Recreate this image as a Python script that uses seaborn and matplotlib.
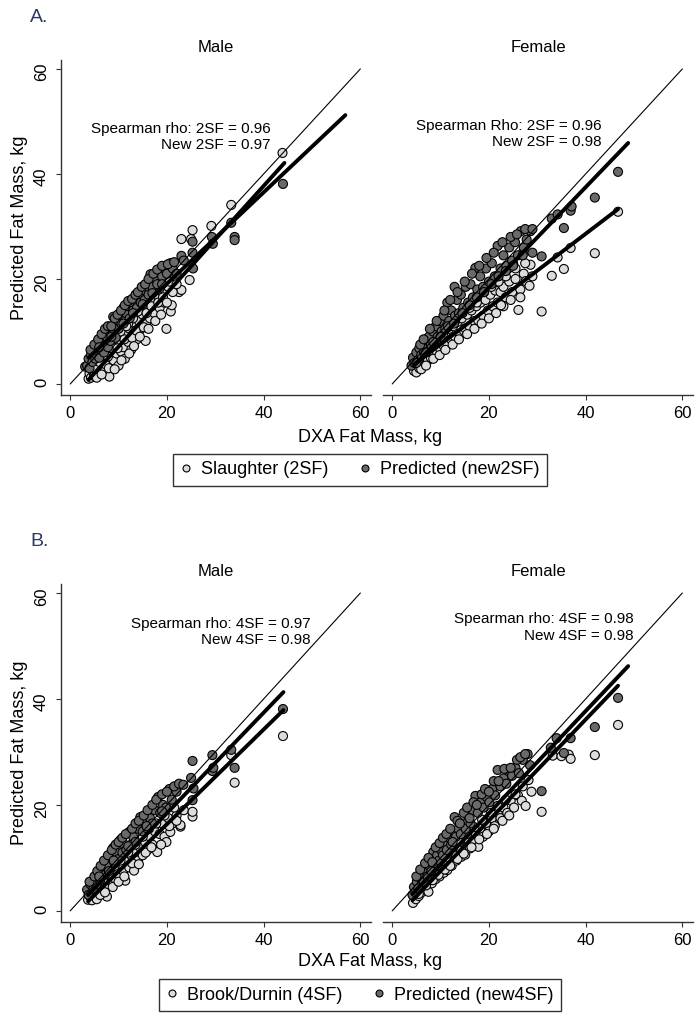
import numpy as np
import pandas as pd
import matplotlib
matplotlib.use("Agg")
import matplotlib.pyplot as plt
from matplotlib.lines import Line2D
import seaborn as sns

sns.set_style("ticks")
plt.rcParams['font.family'] = ['Liberation Sans', 'DejaVu Sans']
plt.rcParams.update({'text.color': 'black', 'axes.labelcolor': 'black',
                     'xtick.color': 'black', 'ytick.color': 'black'})

# ---- data (DXA fat mass, predicted fat mass) ----
# Panel A, males: Slaughter 2SF and new 2SF
male_2sf = np.array([
    [3.8, 1.0], [4.0, 2.0], [4.3, 1.2], [4.5, 3.0], [4.8, 2.2], [5.0, 1.5], [5.2, 3.5], [5.5, 2.5],
    [5.8, 4.0], [6.0, 2.0], [6.2, 3.2], [6.5, 4.8], [6.8, 3.0], [7.0, 5.5], [7.2, 2.5], [7.5, 4.2],
    [7.8, 6.0], [8.1, 1.4], [8.2, 5.0], [8.5, 3.5], [8.8, 6.8], [9.0, 4.5], [9.3, 7.5], [9.6, 5.8],
    [10.0, 3.5], [10.2, 8.0], [10.5, 6.2], [10.8, 9.0], [11.0, 7.0], [11.3, 4.8], [11.6, 9.5],
    [12.0, 8.0], [12.3, 10.5], [12.6, 6.5], [13.0, 9.5], [13.4, 11.5], [13.8, 8.5], [14.2, 12.0],
    [14.6, 10.5], [15.0, 13.2], [15.6, 8.2], [15.7, 11.5], [16.0, 14.0], [16.5, 12.5], [17.0, 15.5],
    [17.4, 13.5], [18.0, 16.5], [18.5, 14.5], [19.0, 17.5], [19.5, 15.5], [19.9, 10.5], [20.3, 18.5],
    [20.8, 13.8], [21.0, 15.0], [21.5, 19.0], [22.5, 17.5], [23.0, 17.9], [24.7, 19.8],
    [6.5, 6.0], [9.0, 8.5], [12.0, 11.5], [14.0, 13.8], [16.5, 16.0], [18.5, 18.2], [20.5, 19.5],
    [22.0, 20.5], [5.5, 1.2], [6.5, 1.8], [7.2, 3.8], [8.0, 3.0], [9.2, 2.8], [9.8, 6.8], [10.6, 4.5],
    [11.2, 8.5], [12.2, 5.8], [12.8, 8.8], [13.2, 7.2], [13.6, 10.2], [14.4, 9.0], [15.2, 10.8],
    [15.8, 13.5], [16.2, 10.5], [16.8, 14.8], [17.6, 12.0], [18.2, 15.5], [18.8, 13.2], [19.2, 16.5],
    [20.0, 15.5], [21.2, 17.5], [22.0, 19.0], [5.0, 3.0], [6.0, 4.2], [7.8, 5.2], [10.4, 10.0],
    [11.6, 11.0], [13.0, 12.5],
    [23.0, 27.6], [25.0, 27.6], [25.3, 29.3], [29.2, 30.1], [33.3, 34.1], [43.9, 44.0],
])
male_new2sf = np.array([
    [3.1, 3.3], [3.5, 3.5], [3.8, 4.8], [4.0, 3.0], [4.3, 5.5], [4.6, 4.2], [5.0, 6.0], [5.2, 4.8],
    [5.5, 5.5], [5.8, 7.0], [6.0, 5.0], [6.3, 6.5], [6.6, 8.0], [7.0, 6.0], [7.2, 7.8], [7.5, 9.0],
    [7.8, 7.0], [8.0, 10.0], [8.3, 8.2], [8.9, 12.8], [8.8, 9.5], [9.0, 11.0], [9.4, 8.8], [9.7, 12.0],
    [10.0, 10.5], [10.3, 13.0], [10.6, 11.5], [11.0, 14.5], [11.3, 12.0], [11.6, 13.5], [12.0, 14.8],
    [12.3, 12.5], [12.6, 15.5], [13.0, 14.0], [13.4, 16.0], [13.8, 14.5], [14.2, 17.0], [14.6, 15.5],
    [15.1, 17.9], [15.4, 16.0], [15.8, 18.5], [16.2, 17.0], [16.6, 20.9], [17.0, 18.5], [17.5, 20.0],
    [18.0, 19.0], [18.5, 21.5], [19.0, 20.5], [19.5, 22.0], [20.0, 21.0], [20.7, 23.0], [21.2, 22.0],
    [22.0, 21.0], [4.2, 6.5], [5.0, 7.5], [5.8, 8.5], [6.5, 9.5], [7.2, 10.5], [7.8, 11.0],
    [8.5, 11.0], [9.2, 12.5], [9.8, 13.2], [10.5, 14.0], [11.3, 15.0], [12.0, 15.8], [12.8, 16.2],
    [13.5, 17.0], [14.0, 17.5], [14.8, 18.5], [15.5, 19.0], [16.2, 20.0], [17.2, 21.0], [18.0, 21.8],
    [19.0, 22.5], [20.2, 22.8], [21.5, 23.2], [6.0, 7.0], [8.5, 9.0], [11.0, 11.5], [13.0, 13.5],
    [15.0, 15.2], [17.0, 17.3], [19.0, 19.0],
    [23.0, 24.4], [23.5, 23.5], [25.3, 25.0], [25.3, 27.1], [25.4, 22.0], [29.3, 28.0],
    [29.5, 26.7], [33.3, 30.7], [34.0, 28.0], [34.0, 27.4], [44.0, 38.1],
])
# Panel A, females
female_2sf = np.array([
    [4.5, 2.5], [4.8, 3.8], [5.0, 2.2], [5.3, 4.5], [5.6, 3.0], [5.9, 5.0], [6.2, 3.5], [6.5, 5.5],
    [6.8, 4.0], [7.1, 6.0], [7.4, 4.5], [7.7, 6.5], [8.0, 5.0], [8.3, 7.2], [8.6, 5.5], [9.0, 7.8],
    [9.3, 6.0], [9.6, 8.5], [10.0, 6.5], [10.3, 9.0], [10.7, 7.2], [11.0, 9.8], [11.4, 7.7],
    [11.8, 10.5], [12.2, 8.5], [12.6, 11.0], [13.0, 9.0], [13.5, 11.8], [14.0, 9.5], [14.4, 12.5],
    [14.8, 10.2], [15.1, 10.6], [15.5, 13.2], [16.0, 11.0], [16.4, 14.0], [17.0, 12.0], [17.4, 14.8],
    [17.8, 12.1], [18.3, 15.5], [18.8, 13.0], [19.3, 16.0], [19.8, 14.0], [20.3, 17.0], [20.8, 14.8],
    [21.3, 17.8], [21.8, 15.5], [22.4, 17.5], [23.0, 18.5], [23.5, 16.5], [24.2, 19.5], [24.8, 17.5],
    [25.0, 23.0], [25.5, 20.0], [26.1, 14.1], [26.5, 18.0], [27.0, 25.0], [27.2, 21.0], [27.6, 19.6],
    [28.4, 18.7], [28.6, 22.7], [29.0, 20.5],
    [5.5, 4.8], [6.0, 2.8], [7.0, 3.5], [7.5, 6.8], [8.5, 4.8], [9.0, 8.0], [9.8, 5.5], [10.5, 9.5],
    [11.0, 6.5], [11.5, 10.8], [12.5, 7.5], [13.0, 12.0], [13.8, 8.5], [14.5, 13.5], [15.5, 9.5],
    [16.0, 14.5], [17.0, 10.5], [17.5, 15.5], [18.5, 11.5], [19.0, 17.5], [20.0, 12.5], [20.5, 18.5],
    [21.5, 13.5], [22.0, 19.5], [23.0, 14.8], [23.5, 20.5], [24.5, 16.0], [25.5, 22.0], [26.5, 16.5],
    [27.5, 23.0], [22.5, 15.0], [24.0, 22.0],
    [30.9, 13.8], [33.0, 20.6], [34.2, 24.1], [35.5, 21.9], [36.9, 25.9], [41.9, 24.9], [46.7, 32.8],
])
female_new2sf = np.array([
    [4.0, 3.5], [4.3, 5.0], [4.6, 4.0], [5.0, 6.0], [5.3, 4.5], [5.6, 6.8], [6.0, 5.5], [6.3, 7.5],
    [6.6, 6.0], [7.0, 8.5], [7.3, 6.8], [7.6, 9.0], [8.0, 7.5], [8.4, 10.0], [8.7, 8.0], [9.0, 11.0],
    [9.4, 9.0], [9.8, 12.0], [10.2, 10.0], [10.6, 13.0], [11.0, 10.5], [11.4, 15.5], [11.8, 12.0],
    [12.2, 14.0], [12.9, 18.5], [13.0, 13.0], [13.4, 16.0], [13.8, 13.5], [14.2, 17.0], [14.7, 14.5],
    [15.2, 18.5], [15.7, 15.5], [16.2, 19.0], [16.7, 16.5], [17.2, 22.1], [17.6, 18.0], [18.2, 20.5],
    [18.8, 18.5], [19.4, 22.0], [20.0, 19.5], [20.6, 23.0], [21.2, 20.5], [21.8, 26.3], [22.4, 22.0],
    [23.0, 24.5], [23.6, 22.5], [24.2, 26.0], [24.8, 23.5], [25.4, 27.0], [26.0, 24.5], [26.6, 29.1],
    [27.2, 26.0], [27.8, 27.5], [28.6, 29.1], [29.0, 25.0],
    [5.0, 4.0], [5.8, 7.5], [6.5, 8.5], [7.0, 6.0], [7.8, 10.5], [8.5, 8.0], [9.2, 12.0], [10.0, 9.0],
    [10.8, 14.0], [11.5, 11.0], [12.0, 16.0], [12.8, 11.5], [13.5, 17.5], [14.5, 13.5], [15.0, 19.5],
    [16.0, 15.0], [16.5, 21.0], [17.5, 16.5], [18.0, 22.5], [19.0, 17.5], [19.5, 24.0], [20.5, 19.0],
    [21.0, 25.0], [22.0, 20.5], [22.8, 27.0], [23.5, 21.5], [24.5, 28.0], [25.0, 22.5], [25.8, 28.5],
    [27.0, 24.5], [27.5, 29.5], [29.0, 29.5],
    [30.9, 24.3], [33.0, 31.5], [34.2, 32.3], [35.5, 29.7], [36.9, 33.0], [37.1, 33.8], [41.9, 35.5],
    [46.7, 40.4],
])
# Panel B, males: Brook/Durnin 4SF and new 4SF
male_4sf = np.array([
    [3.7, 2.1], [4.0, 3.2], [4.3, 2.5], [4.6, 4.0], [5.0, 3.0], [5.3, 4.5], [5.6, 3.5], [6.0, 5.0],
    [6.3, 4.0], [6.6, 5.5], [7.0, 4.5], [7.6, 2.7], [7.4, 6.0], [7.8, 5.0], [8.2, 6.5], [8.6, 5.5],
    [9.0, 7.2], [9.4, 6.0], [9.8, 8.0], [10.2, 6.8], [10.6, 8.8], [11.0, 7.5], [11.4, 5.7], [11.8, 9.5],
    [12.2, 8.2], [12.6, 10.5], [13.2, 7.6], [13.5, 11.0], [14.0, 9.5], [14.5, 12.0], [15.0, 10.5],
    [15.5, 13.0], [16.0, 11.5], [16.5, 14.0], [17.0, 12.5], [17.5, 15.0], [18.0, 11.1], [18.5, 14.5],
    [19.0, 16.5], [19.5, 14.0], [19.9, 13.0], [20.3, 17.5], [20.7, 14.9], [21.2, 16.5], [22.0, 18.0],
    [22.8, 15.9], [23.5, 19.0], [22.8, 16.2],
    [4.5, 2.0], [5.5, 2.2], [6.2, 3.0], [6.8, 6.0], [7.2, 3.5], [8.0, 7.0], [8.8, 4.5], [9.2, 8.5],
    [10.0, 5.5], [10.4, 9.5], [11.2, 6.5], [12.0, 11.0], [12.8, 9.0], [13.5, 12.5], [14.2, 8.8],
    [15.0, 14.0], [15.6, 11.0], [16.3, 15.5], [16.8, 12.0], [17.8, 16.5], [18.8, 12.5], [19.5, 18.0],
    [20.5, 16.0], [21.5, 19.5], [22.0, 17.0],
    [25.3, 17.8], [25.3, 18.7], [33.3, 29.4], [34.0, 24.2], [44.0, 33.0],
])
male_new4sf = np.array([
    [3.5, 4.0], [3.8, 3.0], [4.2, 5.0], [4.5, 5.5], [4.8, 4.2], [5.2, 6.0], [5.5, 5.0], [5.9, 7.0],
    [6.2, 5.8], [6.6, 7.8], [6.9, 8.3], [7.2, 6.8], [7.6, 8.5], [8.0, 7.5], [8.4, 10.0], [8.9, 11.9],
    [9.2, 9.0], [9.6, 11.0], [10.0, 9.8], [10.4, 13.4], [10.8, 11.0], [11.2, 12.5], [11.6, 11.5],
    [12.2, 14.9], [12.6, 12.5], [13.0, 14.0], [13.5, 13.0], [14.0, 15.5], [14.5, 17.7], [15.0, 15.0],
    [15.5, 16.5], [16.0, 15.5], [16.5, 17.5], [17.0, 16.5], [17.5, 19.0], [18.2, 21.5], [18.6, 18.5],
    [19.2, 20.0], [19.8, 19.5], [20.5, 23.0], [21.0, 21.0], [22.0, 22.5],
    [4.0, 5.5], [5.0, 6.5], [5.6, 7.5], [6.3, 8.5], [7.0, 9.5], [7.8, 10.5], [8.6, 11.5], [9.4, 12.5],
    [10.0, 13.0], [10.8, 13.8], [11.5, 14.5], [12.8, 15.5], [13.5, 16.5], [14.2, 17.0], [15.2, 18.0],
    [16.0, 19.0], [17.0, 20.0], [17.8, 21.0], [19.0, 22.0], [20.0, 22.5], [21.5, 23.5], [22.5, 24.0],
    [6.0, 6.5], [9.0, 9.5], [12.0, 12.2], [15.8, 16.0], [19.0, 18.8],
    [23.4, 23.8], [25.0, 25.1], [25.3, 28.3], [25.5, 23.1], [25.3, 20.9], [29.4, 29.4], [29.4, 26.4],
    [29.6, 27.0], [33.3, 30.4], [34.0, 27.0], [44.0, 38.1],
])
# Panel B, females
female_4sf = np.array([
    [4.3, 1.5], [4.6, 3.0], [4.9, 2.2], [5.2, 3.8], [5.5, 2.8], [5.8, 4.5], [6.1, 3.5], [6.5, 5.0],
    [6.8, 4.0], [7.1, 5.8], [7.5, 3.6], [7.8, 6.2], [8.2, 5.2], [8.6, 7.0], [9.0, 6.0], [9.4, 7.8],
    [9.8, 6.5], [10.2, 8.5], [10.7, 7.2], [11.1, 9.2], [11.4, 7.7], [11.9, 10.0], [12.3, 8.5],
    [12.8, 11.0], [13.3, 9.5], [13.8, 12.0], [14.3, 10.2], [14.8, 12.8], [15.1, 10.6], [15.6, 13.5],
    [16.1, 11.8], [16.6, 14.5], [17.0, 12.8], [17.8, 12.1], [18.2, 15.5], [18.8, 14.0], [19.4, 16.5],
    [20.0, 15.0], [20.6, 17.5], [21.2, 16.0], [21.8, 18.5], [22.4, 17.5], [23.0, 19.5], [23.8, 18.5],
    [24.5, 20.8], [25.2, 19.5], [26.0, 21.8], [26.8, 20.8], [27.6, 19.8], [28.2, 24.7], [28.8, 22.5],
    [5.0, 4.5], [5.5, 3.2], [6.3, 5.8], [7.0, 4.8], [7.5, 7.0], [8.4, 5.8], [8.8, 8.2], [9.6, 6.8],
    [10.0, 9.5], [10.9, 7.8], [11.5, 10.8], [12.0, 8.5], [12.6, 12.0], [13.5, 9.8], [14.0, 13.2],
    [14.8, 10.8], [15.5, 14.5], [16.4, 12.0], [17.0, 15.8], [18.0, 13.5], [18.6, 17.2], [19.6, 14.5],
    [20.4, 18.5], [21.0, 15.5], [21.8, 19.8], [22.8, 17.0], [23.5, 21.0], [24.2, 18.0], [25.5, 22.0],
    [27.0, 23.5],
    [30.9, 18.7], [33.2, 29.3], [35.0, 29.2], [36.5, 29.5], [36.9, 28.7], [41.9, 29.4], [46.7, 35.1],
])
female_new4sf = np.array([
    [4.2, 3.0], [4.5, 4.5], [4.8, 3.5], [5.1, 5.5], [5.4, 4.2], [5.8, 6.2], [6.2, 7.2], [6.5, 5.5],
    [6.9, 7.5], [7.3, 6.5], [7.7, 8.5], [8.1, 7.5], [8.5, 11.1], [8.9, 9.0], [9.3, 10.5], [9.7, 9.5],
    [10.1, 11.5], [10.5, 10.5], [10.9, 12.5], [11.3, 11.5], [11.8, 13.8], [12.2, 12.5], [12.9, 17.7],
    [13.2, 14.0], [13.7, 15.5], [14.2, 14.5], [14.7, 16.5], [15.2, 15.5], [15.7, 18.0], [16.2, 16.5],
    [16.7, 19.0], [17.2, 21.7], [17.7, 18.5], [18.3, 20.5], [18.9, 19.5], [19.5, 21.5], [20.1, 20.5],
    [20.7, 23.0], [21.3, 21.8], [21.8, 26.6], [22.4, 23.5], [23.0, 25.0], [23.6, 24.0], [24.1, 26.6],
    [24.8, 25.5], [25.5, 27.0], [26.2, 26.0], [27.0, 28.5], [28.0, 29.6], [28.5, 27.5],
    [5.0, 6.5], [5.8, 7.8], [6.8, 9.0], [7.5, 10.0], [8.3, 9.2], [9.0, 12.0], [9.8, 12.8], [10.5, 13.8],
    [11.2, 14.5], [12.0, 15.5], [12.5, 13.0], [13.5, 17.0], [14.0, 16.5], [14.8, 18.5], [15.5, 19.5],
    [16.0, 17.5], [16.8, 20.5], [17.5, 20.0], [18.5, 22.0], [19.2, 23.0], [20.0, 22.5], [21.0, 24.5],
    [22.0, 24.5], [23.2, 26.8], [24.5, 27.0], [25.8, 28.5], [26.5, 29.0], [27.5, 29.6],
    [30.9, 22.6], [32.8, 30.8], [34.0, 32.6], [35.5, 29.8], [36.9, 32.6], [41.9, 34.7], [46.7, 40.2],
])

# fitted lines: [[x_start, x_end], [y_start, y_end]]
fit_male_2sf = [[3.8, 44.3], [0.8, 42.1]]
fit_male_new2sf = [[3.8, 56.9], [5.0, 51.2]]
fit_female_2sf = [[4.5, 46.7], [3.7, 33.3]]
fit_female_new2sf = [[4.5, 48.8], [3.5, 45.9]]
fit_male_4sf = [[3.7, 44.1], [1.8, 37.9]]
fit_male_new4sf = [[3.7, 44.1], [3.0, 41.3]]
fit_female_4sf = [[4.2, 46.7], [2.0, 42.5]]
fit_female_new4sf = [[4.2, 48.8], [3.2, 46.2]]
identity = [0, 60]

rho_text_a = ["Spearman rho: 2SF = 0.96\nNew 2SF = 0.97", "Spearman Rho: 2SF = 0.96\nNew 2SF = 0.98"]
rho_text_b = ["Spearman rho: 4SF = 0.97\nNew 4SF = 0.98", "Spearman rho: 4SF = 0.98\nNew 4SF = 0.98"]
legend_a = ["Slaughter (2SF)", "Predicted (new2SF)"]
legend_b = ["Brook/Durnin (4SF)", "Predicted (new4SF)"]
ticks = [0, 20, 40, 60]

LIGHT = "#dcdcdc"
DARK = "#6a6a6a"
W, H = 698, 1023


def box(left, top, right, bottom):
    return [left / W, 1 - bottom / H, (right - left) / W, (bottom - top) / H]


def panel_frame(light, dark, names):
    a = pd.DataFrame(light, columns=["dxa", "pred"])
    a["method"] = names[0]
    b = pd.DataFrame(dark, columns=["dxa", "pred"])
    b["method"] = names[1]
    return pd.concat([a, b], ignore_index=True)


def draw(ax, df, names, fits, text, text_xy, title, show_y):
    sns.scatterplot(data=df, x="dxa", y="pred", hue="method", hue_order=names,
                    palette=[LIGHT, DARK], s=42, edgecolor="black", linewidth=0.8,
                    legend=False, ax=ax, zorder=2)
    for fx, fy in fits:
        sns.lineplot(x=fx, y=fy, color="black", lw=2.8, ax=ax, zorder=3)
    sns.lineplot(x=identity, y=identity, color="black", lw=0.8, ax=ax, zorder=3)
    ax.text(text_xy[0], text_xy[1], text, ha="right", va="center", multialignment="right",
            fontsize=11)
    ax.set_xlim(-1.9, 62.2)
    ax.set_ylim(-2.1, 61.7)
    ax.set_xticks(ticks)
    ax.set_yticks(ticks)
    ax.set_xlabel("")
    ax.set_ylabel("")
    ax.set_title(title, fontsize=12, pad=6)
    for s in ["top", "right"]:
        ax.spines[s].set_visible(False)
    for s in ["left", "bottom"]:
        ax.spines[s].set_color("#333333")
        ax.spines[s].set_linewidth(1.0)
    ax.tick_params(axis="both", length=3.6, width=0.8, color="#333333", labelsize=12, pad=4)
    ax.tick_params(axis="y", labelrotation=90, pad=5)
    if not show_y:
        ax.spines["left"].set_visible(False)
        ax.tick_params(axis="y", left=False, labelleft=False)


fig = plt.figure(figsize=(W / 100, H / 100), dpi=100)

ax1 = fig.add_axes(box(61, 60, 371, 395))
ax2 = fig.add_axes(box(383, 60, 693, 395))
ax3 = fig.add_axes(box(61, 584, 371, 922))
ax4 = fig.add_axes(box(383, 584, 693, 922))

draw(ax1, panel_frame(male_2sf, male_new2sf, legend_a), legend_a,
     [fit_male_2sf, fit_male_new2sf], rho_text_a[0], (41.4, 47.0), "Male", True)
draw(ax2, panel_frame(female_2sf, female_new2sf, legend_a), legend_a,
     [fit_female_2sf, fit_female_new2sf], rho_text_a[1], (43.4, 47.6), "Female", False)
draw(ax3, panel_frame(male_4sf, male_new4sf, legend_b), legend_b,
     [fit_male_4sf, fit_male_new4sf], rho_text_b[0], (49.7, 52.6), "Male", True)
draw(ax4, panel_frame(female_4sf, female_new4sf, legend_b), legend_b,
     [fit_female_4sf, fit_female_new4sf], rho_text_b[1], (50.0, 53.5), "Female", False)

# panel letters, shared axis titles and legends
for letter, y in [("A.", 17), ("B.", 542)]:
    fig.text(30 / W, 1 - y / H, letter, fontsize=14, color="#2a3866", va="center", ha="left")
for yc in [228, 753]:
    fig.text(20 / W, 1 - yc / H, "Predicted Fat Mass, kg", rotation=90, fontsize=13,
             va="center", ha="center")
for yc in [437, 962]:
    fig.text(370 / W, 1 - yc / H, "DXA Fat Mass, kg", fontsize=13, va="center", ha="center")

for labels, yc in [(legend_a, 470), (legend_b, 995)]:
    handles = [Line2D([], [], ls="", marker="o", markersize=5, markerfacecolor=c,
                      markeredgecolor="black", markeredgewidth=0.8) for c in (LIGHT, DARK)]
    leg = fig.legend(handles, labels, loc="center", bbox_to_anchor=(360 / W, 1 - yc / H),
                     ncol=2, fontsize=13, frameon=True, fancybox=False, edgecolor="black",
                     handlelength=0.6, handletextpad=0.55, columnspacing=1.7, borderpad=0.4)
    leg.get_frame().set_linewidth(1.0)

fig.savefig("out.png", dpi=100)
